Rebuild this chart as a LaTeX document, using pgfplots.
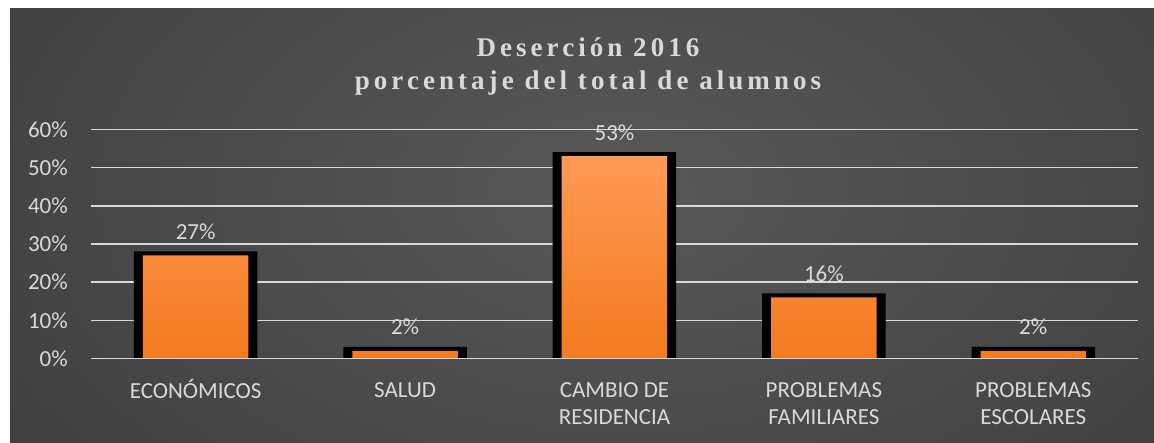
\documentclass[border=0pt]{standalone}
\usepackage{pgfplots}
\pgfplotsset{compat=1.18}
\usepackage{fontspec}
\setmainfont{Carlito}
\newfontfamily\titlefont[LetterSpace=15]{Liberation Serif}
\definecolor{txt}{HTML}{D9D9D9}
\definecolor{gridc}{HTML}{D9D9D9}
\definecolor{bgin}{HTML}{585858}
\definecolor{bgout}{HTML}{262626}
\definecolor{orTop}{HTML}{FF9A55}
\definecolor{orBot}{HTML}{F37A1F}
\pgfdeclareradialshading{bgshade}{\pgfpoint{0bp}{0bp}}{color(0bp)=(bgin); color(50bp)=(bgout)}
\newcommand\T{\rule{0pt}{18pt}}
\begin{document}
\begin{tikzpicture}
\useasboundingbox (0,0) rectangle (1154pt,442pt);
\fill[white] (0,0) rectangle (1154pt,442pt);
\begin{scope}
\clip (10pt,0pt) rectangle (1154pt,433pt);
\shade[shading=bgshade] (-130pt,-198pt) rectangle (1370pt,702pt);
\end{scope}
\node[anchor=base, inner sep=0pt, text=txt, font=\titlefont\bfseries\fontsize{27}{32}\selectfont] at (588pt,385.3pt) {Deserción 2016};
\node[anchor=base, inner sep=0pt, text=txt, font=\titlefont\bfseries\fontsize{27}{32}\selectfont] at (588pt,352pt) {porcentaje del total de alumnos};
\begin{axis}[
  at={(91pt,83.5pt)}, anchor=south west,
  scale only axis, width=1047pt, height=229pt,
  xmin=-0.5, xmax=4.5, ymin=0, ymax=60,
  axis line style={draw=none},
  major tick length=0pt,
  xtick={0,1,2,3,4},
  xticklabels={{\T ECONÓMICOS},{\T SALUD},{\T CAMBIO DE\\RESIDENCIA},{\T PROBLEMAS\\FAMILIARES},{\T PROBLEMAS\\ESCOLARES}},
  ytick={0,10,20,30,40,50,60},
  yticklabels={0\%,10\%,20\%,30\%,40\%,50\%,60\%},
  ymajorgrids,
  grid style={color=gridc, line width=1.6pt},
  tick label style={font=\fontsize{23}{27}\selectfont, text=txt},
  x tick label style={anchor=north, inner sep=0pt, yshift=-20.5pt, align=center},
  y tick label style={anchor=east, inner sep=0pt, xshift=-23pt},
  clip=false,
]
\addplot[ybar, bar width=123.5pt, bar shift=0pt, fill=black, draw=none]
  coordinates {(0,28.05) (1,3.05) (2,54.05) (3,17.05) (4,3.05)};
\addplot[ybar, bar width=105.5pt, bar shift=0pt, draw=none, top color=orTop, bottom color=orBot,
  nodes near coords={\pgfmathprintnumber[assume math mode=true]{\pgfplotspointmeta}\%},
  every node near coord/.append style={anchor=base, inner sep=0pt, yshift=16pt, text=txt, font=\fontsize{23}{27}\selectfont}]
  coordinates {(0,27) (1,2) (2,53) (3,16) (4,2)};
\draw[gridc, line width=1.6pt] (axis cs:-0.5,0) -- (axis cs:4.5,0);
\end{axis}
\end{tikzpicture}
\end{document}
